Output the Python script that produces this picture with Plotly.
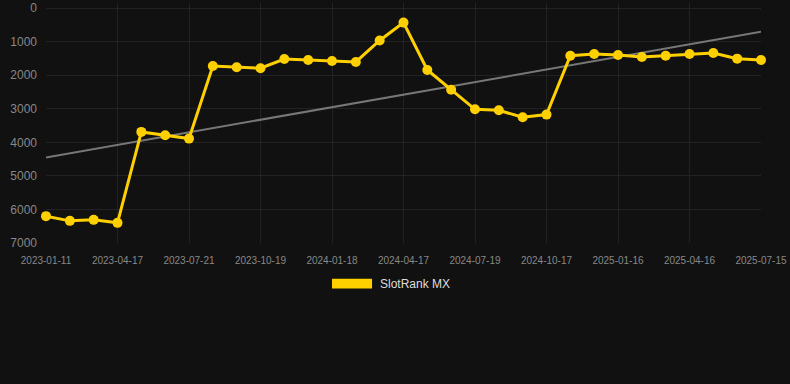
import plotly.graph_objects as go

dates = ["2023-01-11", "2023-02-14", "2023-03-16", "2023-04-17", "2023-05-18", "2023-06-19",
         "2023-07-21", "2023-08-20", "2023-09-19", "2023-10-19", "2023-11-18", "2023-12-18",
         "2024-01-18", "2024-02-17", "2024-03-18", "2024-04-17", "2024-05-18", "2024-06-18",
         "2024-07-19", "2024-08-18", "2024-09-17", "2024-10-17", "2024-11-16", "2024-12-16",
         "2025-01-16", "2025-02-15", "2025-03-17", "2025-04-16", "2025-05-16", "2025-06-15",
         "2025-07-15"]
ranks = [6200, 6340, 6310, 6400, 3690, 3790, 3890, 1726, 1765, 1794, 1518, 1548,
         1577, 1607, 966, 434, 1844, 2435, 3017, 3047, 3254, 3175, 1420, 1370,
         1400, 1459, 1420, 1370, 1341, 1508, 1548]
trend_x = [dates[0], dates[-1]]
trend_y = [4450, 708]
tick_labels = dates[::3]
y_ticks = [0, 1000, 2000, 3000, 4000, 5000, 6000, 7000]
series_name = "SlotRank MX"

gold = "#FFD000"
fig = go.Figure()
fig.add_trace(go.Scatter(x=trend_x, y=trend_y, mode="lines",
                         line=dict(color="#777777", width=2), showlegend=False,
                         hoverinfo="skip"))
fig.add_trace(go.Scatter(x=dates, y=ranks, mode="lines+markers", name=series_name,
                         line=dict(color=gold, width=3),
                         marker=dict(color=gold, size=10),
                         cliponaxis=False, showlegend=False))

fig.update_layout(
    width=790, height=384,
    margin=dict(l=46, r=29, t=1, b=141),
    paper_bgcolor="#111111", plot_bgcolor="#111111",
    font=dict(family="Liberation Sans, Arial, sans-serif", color="#888888"),
    xaxis=dict(type="category", categoryorder="array", categoryarray=dates,
               range=[0, len(dates) - 1], tickmode="array",
               tickvals=tick_labels, ticktext=tick_labels,
               tickfont=dict(size=10, color="#888888"),
               showgrid=True, gridcolor="#222222", zeroline=False,
               showline=False, ticks="", ticklabelstandoff=10),
    yaxis=dict(range=[7000, -150], tickvals=y_ticks,
               tickfont=dict(size=12, color="#888888"),
               showgrid=True, gridcolor="#222222", zeroline=False, showline=False,
               ticks="", ticklabelstandoff=8, ticklabeloverflow="allow"),
    showlegend=False,
    shapes=[dict(type="rect", xref="paper", yref="paper",
                 x0=0.4, x1=0.456, y0=-0.19, y1=-0.149,
                 fillcolor=gold, line=dict(width=0))],
    annotations=[dict(text=series_name, xref="paper", yref="paper", x=0.464, y=-0.17,
                      xanchor="left", yanchor="middle", showarrow=False,
                      font=dict(size=12, color="#DDDDDD"))],
)

fig.write_html("out.html", config={"displayModeBar": False},
               post_script="document.body.style.margin='0';document.body.style.background='#111111';")
